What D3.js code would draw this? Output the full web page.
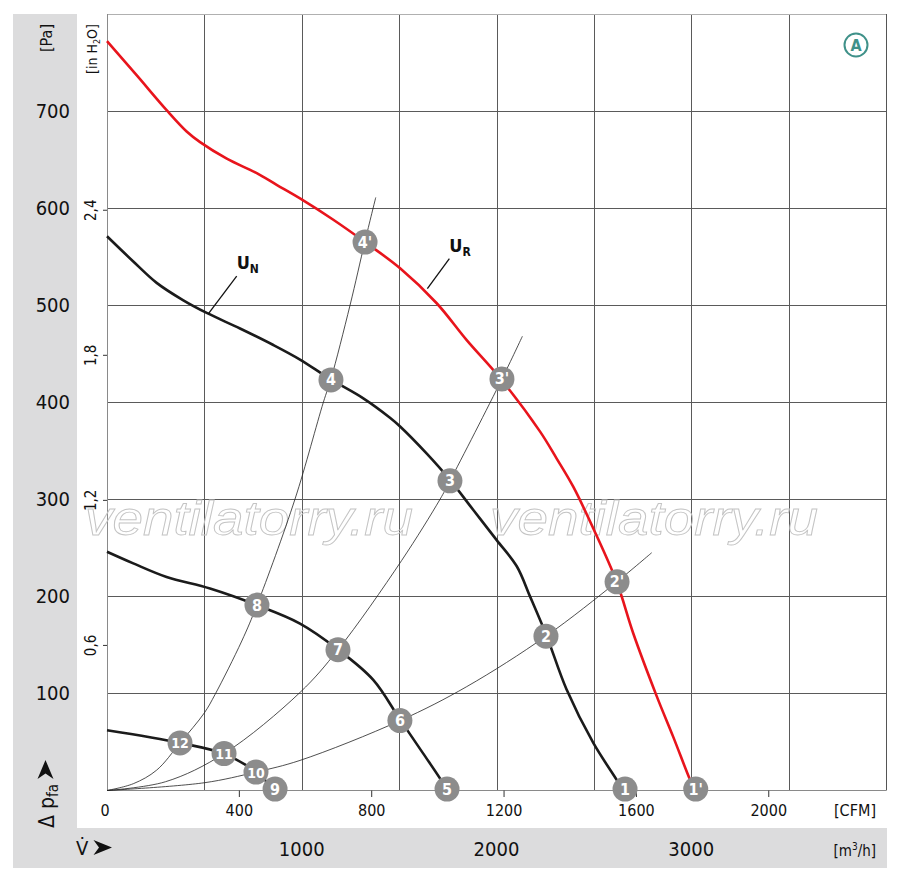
<!DOCTYPE html>
<html>
<head>
<meta charset="utf-8">
<script src="https://cdn.jsdelivr.net/npm/d3@7"></script>
<style>
  body { margin: 0; background: #fff; }
  svg { display: block; font-family: "Liberation Sans Narrow", "DejaVu Sans Condensed", "Liberation Sans", sans-serif; }
</style>
</head>
<body>
<svg id="chart" width="900" height="880"></svg>
<script>
// fan curves: [m3/h, Pa]
const curveUR = [
  [0, 772], [152, 737], [306, 701], [409, 679], [478, 668], [615, 651], [769, 636],
  [871, 624], [991, 610], [1162, 588], [1325, 565], [1505, 538], [1693, 502],
  [1847, 464], [2018, 425], [2223, 370], [2309, 342], [2394, 313], [2497, 270],
  [2617, 215], [2702, 162], [2823, 97], [2908, 55], [2994, 11], [3020, 0]
];
const curveUN = [
  [0, 571], [135, 545], [255, 523], [392, 505], [512, 492], [683, 476], [854, 459],
  [991, 444], [1145, 424], [1316, 404], [1453, 384], [1505, 375], [1642, 347],
  [1761, 320], [1881, 289], [2001, 258], [2104, 231], [2172, 200], [2258, 159],
  [2360, 104], [2497, 49], [2617, 11], [2650, 0]
];
const curveMid = [
  [0, 246], [135, 234], [306, 220], [529, 208], [769, 191], [991, 172], [1188, 145],
  [1367, 114], [1505, 73], [1624, 38], [1727, 7], [1745, 0]
];
const curveLow = [
  [0, 62], [375, 49], [597, 38], [760, 20], [820, 9], [860, 0]
];

// system (resistance) curves through the operating points
const systemA = [
  [0, 0], [135, 7], [255, 21], [375, 49], [500, 80], [555, 99], [692, 154], [770, 191],
  [965, 300], [1111, 400], [1150, 424], [1248, 500], [1325, 566], [1380, 611]
];
const systemB = [
  [0, 0], [300, 9], [601, 38], [991, 101], [1186, 145], [1513, 237], [1710, 300], [1761, 319],
  [2028, 424], [2133, 468]
];
const systemC = [
  [0, 0], [500, 8], [765, 19], [991, 31], [1505, 72], [1847, 107], [2254, 159], [2618, 215], [2797, 245]
];

// operating points
const pointLabels = ['1', "1'", '2', "2'", '3', "3'", '4', "4'", '5', '6', '7', '8', '9', '10', '11', '12'];
const pointFlow   = [2660, 3023, 2254, 2619, 1761, 2028, 1150, 1325, 1746, 1504, 1186, 770, 863, 765, 601, 375];
const pointPress  = [1.5, 1.5, 159, 215, 319, 424, 423, 565, 1.5, 72, 145, 191, 1.5, 19, 38, 49];

// axes
const paTicks = [100, 200, 300, 400, 500, 600, 700];
const inH2OTicks = [0.6, 1.2, 1.8, 2.4];
const inH2OLabels = ['0,6', '1,2', '1,8', '2,4'];
const cfmTicks = [0, 400, 800, 1200, 1600, 2000];
const m3hLabels = [1000, 2000, 3000];
const gridFlow = [500, 1000, 1500, 2000, 2500, 3000, 3500];

const PA_PER_INH2O = 249.089;
const M3H_PER_CFM = 1.69901;

const svg = d3.select('#chart');
const plotLeft = 107, plotRight = 886, plotTop = 14, plotBottom = 790.5;

const x = d3.scaleLinear().domain([0, 4000]).range([plotLeft, plotRight]);
const y = d3.scaleLinear().domain([0, 800]).range([plotBottom, plotTop]);

// grey label bands
svg.append('rect').attr('x', 13).attr('y', 14).attr('width', 64).attr('height', 854).attr('fill', '#dcdcdd');
svg.append('rect').attr('x', 13).attr('y', 828).attr('width', 874).attr('height', 40).attr('fill', '#dcdcdd');

// grid
const grid = svg.append('g').attr('stroke', '#5a5a5a').attr('stroke-width', 1);
grid.selectAll('.hg').data(paTicks).enter().append('line')
  .attr('x1', plotLeft).attr('x2', plotRight)
  .attr('y1', d => Math.round(y(d)) + 0.5).attr('y2', d => Math.round(y(d)) + 0.5);
grid.selectAll('.vg').data(gridFlow).enter().append('line')
  .attr('y1', plotTop).attr('y2', plotBottom)
  .attr('x1', d => Math.round(x(d)) + 0.5).attr('x2', d => Math.round(x(d)) + 0.5);

// frame
svg.append('line').attr('x1', plotLeft).attr('x2', plotRight).attr('y1', plotTop + 0.5).attr('y2', plotTop + 0.5).attr('stroke', '#b0b0b0');
svg.append('line').attr('x1', plotRight + 0.5).attr('x2', plotRight + 0.5).attr('y1', plotTop).attr('y2', plotBottom).attr('stroke', '#555');
svg.append('line').attr('x1', plotLeft + 0.5).attr('x2', plotLeft + 0.5).attr('y1', plotTop).attr('y2', plotBottom).attr('stroke', '#8a8a8a');
svg.append('line').attr('x1', plotLeft).attr('x2', plotRight).attr('y1', plotBottom).attr('y2', plotBottom).attr('stroke', '#8a8a8a');

// watermark
[85, 490].forEach(wx => {
  svg.append('text')
    .attr('x', wx).attr('y', 535)
    .attr('textLength', 328).attr('lengthAdjust', 'spacingAndGlyphs')
    .style('font-family', '"Liberation Sans", sans-serif')
    .style('font-style', 'italic')
    .style('font-size', '48px')
    .attr('fill', 'none').attr('stroke', '#c4c4c4').attr('stroke-width', 0.9)
    .text('ventilatorry.ru');
});

// Pa axis
svg.selectAll('.pa').data(paTicks).enter().append('text')
  .attr('x', 70).attr('y', d => y(d) + 7)
  .attr('text-anchor', 'end')
  .style('font-size', '20px').attr('fill', '#111')
  .text(d => d);

// in H2O axis
const inG = svg.append('g');
inG.selectAll('line').data(inH2OTicks).enter().append('line')
  .attr('x1', 103).attr('x2', plotLeft)
  .attr('y1', d => y(d * PA_PER_INH2O)).attr('y2', d => y(d * PA_PER_INH2O))
  .attr('stroke', '#333');
inG.selectAll('text').data(inH2OTicks).enter().append('text')
  .attr('transform', d => `translate(96,${y(d * PA_PER_INH2O)}) rotate(-90)`)
  .attr('text-anchor', 'middle')
  .style('font-size', '15px').attr('fill', '#111')
  .text((d, i) => inH2OLabels[i]);

// CFM axis
const cfmG = svg.append('g');
cfmG.selectAll('line').data(cfmTicks.filter(d => d > 0)).enter().append('line')
  .attr('x1', d => x(d * M3H_PER_CFM)).attr('x2', d => x(d * M3H_PER_CFM))
  .attr('y1', plotBottom).attr('y2', 797)
  .attr('stroke', '#333');
cfmG.selectAll('text').data(cfmTicks).enter().append('text')
  .attr('x', d => x(d * M3H_PER_CFM) - (d === 0 ? 2 : 0)).attr('y', 816)
  .attr('text-anchor', 'middle')
  .style('font-size', '16px').attr('fill', '#111')
  .text(d => d);
svg.append('text').attr('x', 876).attr('y', 816).attr('text-anchor', 'end')
  .style('font-size', '16px').attr('fill', '#111').text('[CFM]');

// m3/h axis
svg.selectAll('.m3').data(m3hLabels).enter().append('text')
  .attr('x', d => x(d)).attr('y', 856)
  .attr('text-anchor', 'middle')
  .style('font-size', '20px').attr('fill', '#111')
  .text(d => d);
const m3 = svg.append('text').attr('x', 876).attr('y', 856).attr('text-anchor', 'end')
  .style('font-size', '15px').attr('fill', '#111');
m3.append('tspan').text('[m');
m3.append('tspan').attr('dy', -6).style('font-size', '10px').text('3');
m3.append('tspan').attr('dy', 6).text('/h]');

// unit labels in the left band
svg.append('text').attr('transform', 'translate(52,38) rotate(-90)')
  .attr('text-anchor', 'middle').style('font-size', '16px').attr('fill', '#111').text('[Pa]');
const inh = svg.append('text').attr('transform', 'translate(97,49) rotate(-90)')
  .attr('text-anchor', 'middle').style('font-size', '14px').attr('fill', '#111');
inh.append('tspan').text('[in H');
inh.append('tspan').attr('dy', 3).style('font-size', '9px').text('2');
inh.append('tspan').attr('dy', -3).text('O]');

// axis titles with arrowheads
const dp = svg.append('text').attr('transform', 'translate(54,828) rotate(-90)')
  .style('font-size', '21px').attr('fill', '#111');
dp.append('tspan').text('Δ p');
dp.append('tspan').attr('dy', 4).style('font-size', '15px').text('fa');
svg.append('path').attr('d', 'M45.5,760 L53.5,779 L45.5,773.5 L37.5,779 Z').attr('fill', '#111');

svg.append('text').attr('x', 76).attr('y', 855)
  .style('font-size', '20px').attr('fill', '#111').text('V̇');
svg.append('path').attr('d', 'M112,847.5 L93.5,855 L99,847.5 L93.5,840 Z').attr('fill', '#111');

// curves
const line = d3.line().x(d => x(d[0])).y(d => y(d[1])).curve(d3.curveCatmullRom.alpha(0.5));

[systemA, systemB, systemC].forEach(s => {
  svg.append('path').attr('d', line(s))
    .attr('fill', 'none').attr('stroke', '#222').attr('stroke-width', 0.8);
});

[curveUN, curveMid, curveLow].forEach(c => {
  svg.append('path').attr('d', line(c))
    .attr('fill', 'none').attr('stroke', '#1b1b1b').attr('stroke-width', 2.6);
});
svg.append('path').attr('d', line(curveUR))
  .attr('fill', 'none').attr('stroke', '#e8141c').attr('stroke-width', 2.6);

// curve labels with leader lines
const annotations = [
  { sub: 'N', from: [520, 491], to: [666, 530], text: [666, 537] },
  { sub: 'R', from: [1645, 517], to: [1758, 548], text: [1758, 555] }
];
annotations.forEach(a => {
  svg.append('line')
    .attr('x1', x(a.from[0])).attr('y1', y(a.from[1]))
    .attr('x2', x(a.to[0])).attr('y2', y(a.to[1]))
    .attr('stroke', '#111').attr('stroke-width', 1.3);
  const t = svg.append('text').attr('x', x(a.text[0])).attr('y', y(a.text[1]))
    .style('font-size', '18px').style('font-weight', 'bold').attr('fill', '#111');
  t.append('tspan').text('U');
  t.append('tspan').attr('dy', 4).style('font-size', '12px').text(a.sub);
});

// operating point markers
const marks = svg.selectAll('.mark').data(pointLabels).enter().append('g')
  .attr('transform', (d, i) => `translate(${x(pointFlow[i])},${y(pointPress[i])})`);
marks.append('circle').attr('r', 12.5).attr('fill', '#8c8c8c');
marks.append('text')
  .attr('y', 5.5).attr('text-anchor', 'middle')
  .style('font-size', d => (d.length > 1 && d.indexOf("'") < 0 ? '14px' : '16px'))
  .style('font-weight', 'bold').attr('fill', '#fff')
  .text(d => d);

// "A" badge
const badge = svg.append('g').attr('transform', 'translate(856,45)');
badge.append('circle').attr('r', 11.5).attr('fill', 'none').attr('stroke', '#3f9189').attr('stroke-width', 2);
badge.append('text').attr('y', 6).attr('text-anchor', 'middle')
  .style('font-size', '16px').style('font-weight', 'bold').attr('fill', '#3f9189').text('A');
</script>
</body>
</html>
